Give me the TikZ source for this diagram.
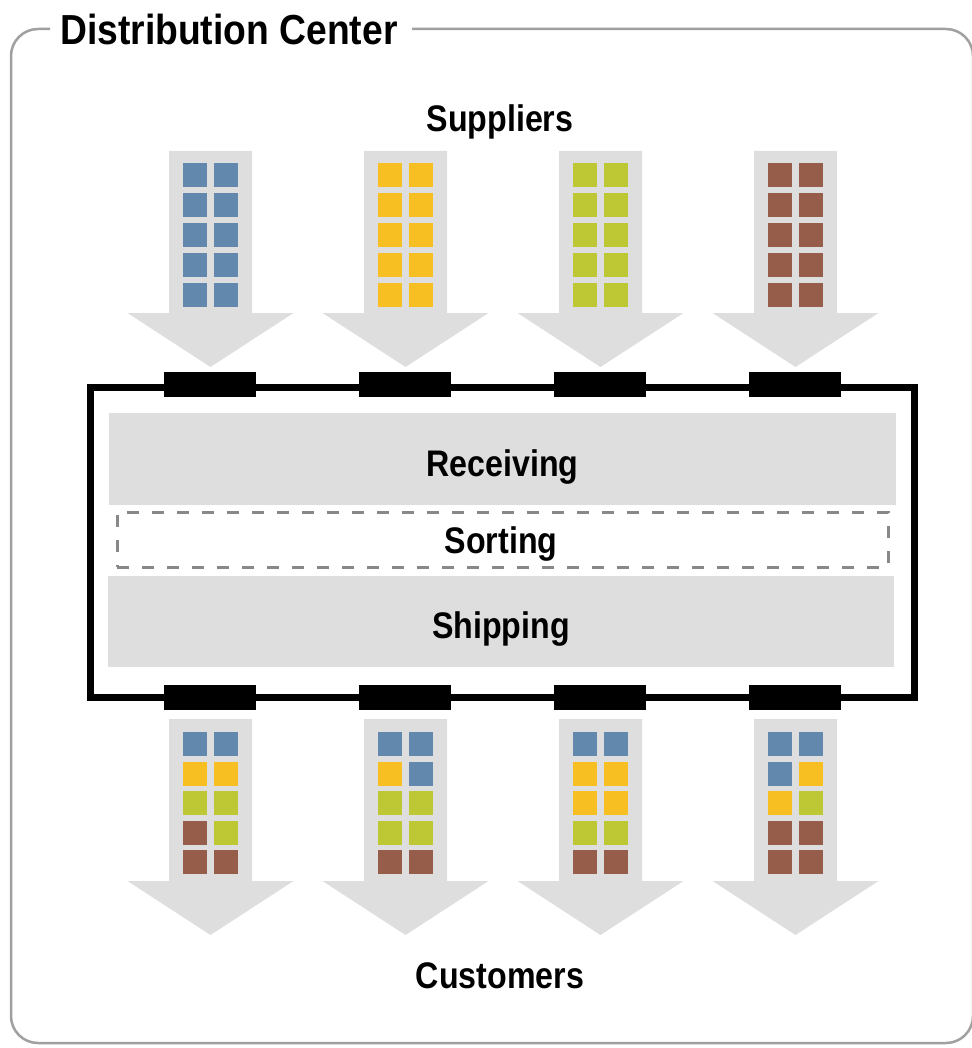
\documentclass[tikz,border=0pt]{standalone}
\usepackage{fontspec}
\usepackage{graphicx}
\setmainfont{Liberation Sans}
\definecolor{flowgray}{HTML}{DEDEDE}
\definecolor{bandgray}{HTML}{DEDEDE}
\definecolor{framegray}{HTML}{A0A0A0}
\definecolor{dashgray}{HTML}{888888}
\definecolor{cB}{HTML}{6288AE}
\definecolor{cY}{HTML}{F7BF22}
\definecolor{cG}{HTML}{BDC834}
\definecolor{cR}{HTML}{955D4A}
\newcommand\narrowtxt[1]{\scalebox{0.87}[1]{#1}}
\begin{document}
\begin{tikzpicture}[x=1pt,y=-1pt,
  lbl/.style={font=\fontsize{37}{40}\selectfont\bfseries, inner sep=0pt, anchor=base},
  titlelbl/.style={font=\fontsize{42}{46}\selectfont\bfseries, inner sep=0pt, anchor=base west},
  dockbox/.style={fill=black, draw=none, minimum width=92pt, minimum height=25pt, inner sep=0pt},
  band/.style={fill=bandgray, draw=none, inner sep=0pt},
  sortbox/.style={draw=dashgray, line width=3pt, dash pattern=on 12pt off 13pt, inner sep=0pt},
  flow/.style={fill=flowgray},
  framebox/.style={draw=framegray, line width=2.5pt, rounded corners=27pt}
]
\useasboundingbox (0,0) rectangle (971,1048);

% outer frame
\draw[framebox] (50,29) -- (11,29) -- (11,1043) -- (973,1043) -- (973,29) -- (412,29);
\node[titlelbl] (title) at (60,45) {\scalebox{0.887}[1]{Distribution Center}};

% labels
\node[lbl] (suppliers) at (500,132) {\narrowtxt{Suppliers}};
\node[lbl] (customers) at (500,988) {\narrowtxt{Customers}};

% supplier arrows
\foreach \cx/\col [count=\k] in {210.5/cB,405.5/cY,600.5/cG,795.5/cR}{
  \fill[flowgray] (\cx-41.5,151) -- (\cx+41.5,151) -- (\cx+41.5,313) -- (\cx+83,313)
     -- (\cx,367) -- (\cx-83,313) -- (\cx-41.5,313) -- cycle;
  \foreach \r in {0,...,4}{
    \foreach \c in {-1,1}{
      \fill[\col] (\cx+\c*15.5-12,163+\r*30) rectangle ++(24,24);
    }
  }
}

% customer arrows
\foreach \cx/\cols in {210.5/{cB,cB,cY,cY,cG,cG,cR,cG,cR,cR},
                       405.5/{cB,cB,cY,cB,cG,cG,cG,cG,cR,cR},
                       600.5/{cB,cB,cY,cY,cY,cY,cG,cG,cR,cR},
                       795.5/{cB,cB,cB,cY,cY,cG,cR,cR,cR,cR}}{
  \fill[flowgray] (\cx-41.5,719) -- (\cx+41.5,719) -- (\cx+41.5,881) -- (\cx+83,881)
     -- (\cx,935) -- (\cx-83,881) -- (\cx-41.5,881) -- cycle;
  \foreach \col [count=\i from 0] in \cols {
    \pgfmathtruncatemacro\rw{int(\i/2)}
    \pgfmathtruncatemacro\cl{mod(\i,2)}
    \fill[\col] (\cx-27.5+\cl*31,732+\rw*29.6) rectangle ++(24,24);
  }
}

% distribution center building
\node[draw, line width=7pt, minimum width=823.5pt, minimum height=309.5pt, inner sep=0pt] (dc) at (502.25,542.25) {};
\node[band, minimum width=787pt, minimum height=92pt] (receiving) at (502.5,459) {};
\node[sortbox, minimum width=771pt, minimum height=55pt] (sorting) at (502.5,539.5) {};
\node[band, minimum width=786pt, minimum height=91pt] (shipping) at (501,621.5) {};
\node[lbl] (receivinglbl) at (502.5,476) {\narrowtxt{Receiving}};
\node[lbl] (sortinglbl) at (501,553) {\narrowtxt{Sorting}};
\node[lbl] (shippinglbl) at (501,638) {\narrowtxt{Shipping}};

% docks
\foreach \cx [count=\k] in {210,405,600,795}{
  \node[dockbox] (dt\k) at (\cx,384.5) {};
  \node[dockbox] (db\k) at (\cx,697.5) {};
}
\end{tikzpicture}
\end{document}
